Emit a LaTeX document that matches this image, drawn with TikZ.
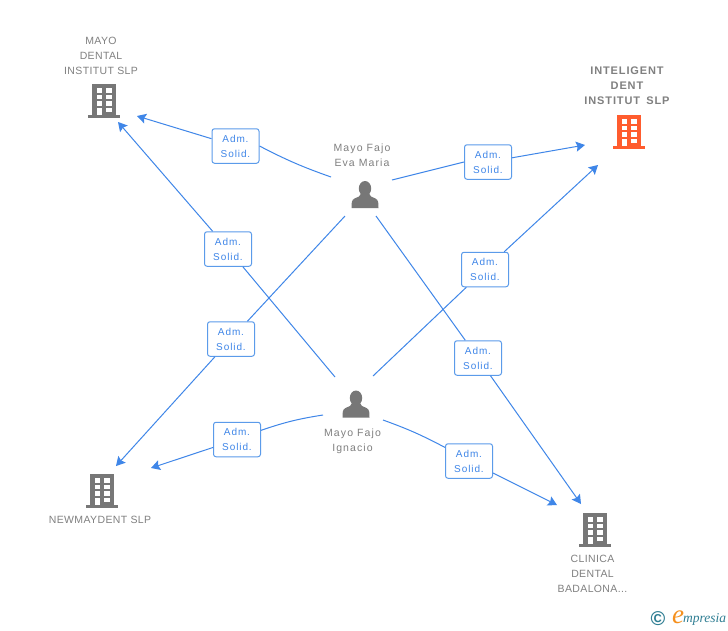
\documentclass[tikz,border=0pt]{standalone}
\usepackage{fontspec}
\setmainfont{Liberation Sans}
\newfontfamily\namefont[LetterSpace=3.5]{Liberation Sans}
\newfontfamily\topfont[LetterSpace=8,WordSpace=1.6]{Liberation Sans}
\newfontfamily\personfont[LetterSpace=10.5]{Liberation Sans}
\newfontfamily\boxfont[LetterSpace=9]{Liberation Sans}
\newfontfamily\logofont{Liberation Serif}
\usetikzlibrary{arrows.meta}
\definecolor{linkblue}{HTML}{3F86E8}
\definecolor{boxblue}{HTML}{5B9BEA}
\definecolor{iconGrey}{HTML}{777777}
\definecolor{textGrey}{HTML}{808080}
\definecolor{topOrange}{HTML}{FF5C2E}
\definecolor{logoTeal}{HTML}{2F7E93}
\definecolor{logoOrange}{HTML}{F5901E}
\tikzset{
	building/.pic={
		\fill[#1] (-11.7,-17) rectangle (11.7,14);
		\fill[#1] (-16,14) rectangle (16,17);
		\foreach \wy/\wh in {-12.7/-8.3, -6.3/-1.7, 0.3/4.7} {
			\fill[white] (-7.3,\wy) rectangle (-2,\wh);
			\fill[white] (2.3,\wy) rectangle (8,\wh);
		}
		\fill[white] (-7.3,6.7) rectangle (-2,14);
		\fill[white] (2.3,6.7) rectangle (8,11);
	},
	person/.pic={
		\fill[iconGrey] (0,-6) ellipse (6.2 and 7.5);
		\fill[iconGrey] (-13.5,13.5) -- (-13.2,7.5) .. controls (-12.5,4) and (-9,3.5) .. (-6,2)
			-- (-4,-1) -- (4,-1) -- (6,2) .. controls (9,3.5) and (12.5,4) .. (13.2,7.5) -- (13.5,13.5) -- cycle;
	}
}
\begin{document}
\begin{tikzpicture}[x=1pt,y=-1pt]
	\useasboundingbox (0,0) rectangle (728,630);
	\fill[white] (0,0) rectangle (728,630);
	% icons
	\pic at (104,101) {building=iconGrey};
	\pic at (629,132) {building=topOrange};
	\pic at (102,491) {building=iconGrey};
	\pic at (595,530) {building=iconGrey};
	\pic at (365,194.5) {person};
	\pic at (356,404) {person};
	% names
	\begin{scope}[every node/.style = {align=center, text=textGrey, inner sep=0pt}]
		\node[font=\namefont\fontsize{10.5}{15}\selectfont] (MD) at (101,56) {MAYO\\DENTAL\\INSTITUT SLP};
		\node[font=\topfont\bfseries\fontsize{11}{15}\selectfont] (ID) at (627,86) {INTELIGENT\\DENT\\INSTITUT SLP};
		\node[font=\namefont\fontsize{10.5}{15}\selectfont] (NM) at (100,520) {NEWMAYDENT SLP};
		\node[font=\namefont\fontsize{10.5}{15}\selectfont] (CD) at (592.5,574) {CLINICA\\DENTAL\\BADALONA...};
		\node[font=\personfont\fontsize{10.5}{15}\selectfont] (EV) at (362,155) {Mayo Fajo\\Eva Maria};
		\node[font=\personfont\fontsize{10.5}{15}\selectfont] (IG) at (352.5,441) {Mayo Fajo\\Ignacio};
	\end{scope}
	% boxes
	\begin{scope}[every node/.style = {draw=boxblue, fill=white, line width=1pt, rounded corners=2.5pt,
			minimum width=47pt, minimum height=34.5pt, inner sep=0pt, align=center, text=linkblue,
			font=\boxfont\fontsize{10}{15}\selectfont}]
		\node (boxA) at (235.5,146) {Adm.\\Solid.};
		\node (boxB) at (488,162) {Adm.\\Solid.};
		\node (boxC) at (228,249) {Adm.\\Solid.};
		\node (boxD) at (231,339) {Adm.\\Solid.};
		\node (boxE) at (485,269.5) {Adm.\\Solid.};
		\node (boxF) at (478,358) {Adm.\\Solid.};
		\node (boxG) at (237,439.5) {Adm.\\Solid.};
		\node (boxH) at (469,461) {Adm.\\Solid.};
	\end{scope}
	% free ends of the links
	\coordinate (evA) at (331,177);
	\coordinate (evB) at (392,180);
	\coordinate (evD) at (345,216);
	\coordinate (evF) at (376,216);
	\coordinate (igC) at (335,377);
	\coordinate (igE) at (373,376);
	\coordinate (igG) at (323,415);
	\coordinate (igH) at (383,420);
	\coordinate (mdA) at (137,116);
	\coordinate (mdC) at (118,122);
	\coordinate (idB) at (585,145);
	\coordinate (idE) at (598,165);
	\coordinate (nmD) at (116,466);
	\coordinate (nmG) at (151,468);
	\coordinate (cdF) at (581,504);
	\coordinate (cdH) at (557,505);
	% links
	\begin{scope}[>={Stealth[length=9pt,width=10pt,inset=1.5pt]},
			every edge/.style={draw=linkblue, line width=1pt}]
		\path (evA) edge[bend left=4] (boxA.east);
		\path [->] (boxA) edge (mdA);
		\path (evB) edge (boxB.west);
		\path [->] (boxB) edge (idB);
		\path (igC) edge (boxC);
		\path [->] (boxC) edge (mdC);
		\path (evD) edge (boxD);
		\path [->] (boxD) edge (nmD);
		\path (igE) edge (boxE);
		\path [->] (boxE) edge (idE);
		\path (evF) edge (boxF);
		\path [->] (boxF) edge (cdF);
		\path (igG) edge[bend right=5] (boxG);
		\path [->] (boxG) edge (nmG);
		\path (igH) edge[bend left=4] (boxH);
		\path [->] (boxH) edge (cdH);
	\end{scope}
	% logo
	\node[text=logoTeal, inner sep=0pt, font=\bfseries\fontsize{20}{20}\selectfont] (logoC) at (658,619) {\textcopyright};
	\node[text=logoOrange, inner sep=0pt, font=\logofont\itshape\fontsize{27}{27}\selectfont] (logoE) at (678,617) {e};
	\node[text=logoTeal, inner sep=0pt, anchor=west, font=\logofont\itshape\fontsize{13.5}{14}\selectfont] (logoT) at (683,619) {mpresia};
\end{tikzpicture}
\end{document}
